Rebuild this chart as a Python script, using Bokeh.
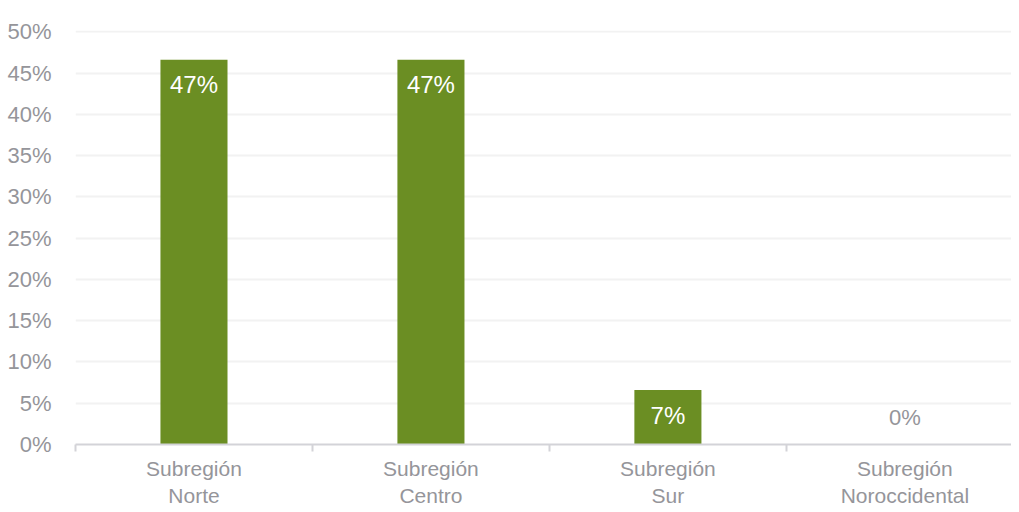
from bokeh.plotting import figure
from bokeh.models import ColumnDataSource, Range1d, FixedTicker, LabelSet, NumeralTickFormatter
from bokeh.core.properties import value
from bokeh.embed import file_html
from bokeh.resources import INLINE

categories = ["Subregión\nNorte", "Subregión\nCentro", "Subregión\nSur", "Subregión\nNoroccidental"]
values = [0.466, 0.466, 0.066, 0.0]
labels = ["47%", "47%", "7%", "0%"]
y_ticks = [0, 0.05, 0.10, 0.15, 0.20, 0.25, 0.30, 0.35, 0.40, 0.45, 0.50]

FONT = "Liberation Sans"
GREEN = "#6b8e23"
GRAY = "#95959a"

xs = list(range(len(categories)))
bounds = [i - 0.5 for i in xs]

p = figure(frame_width=936, frame_height=414, min_border_left=75, min_border_top=30,
           min_border_bottom=60, min_border_right=0,
           x_range=Range1d(-0.5, 3.45), y_range=Range1d(0, 0.5015),
           output_backend="svg", toolbar_location=None)
p.outline_line_color = None
p.background_fill_color = "white"

src = ColumnDataSource(dict(x=xs, top=values, label=labels))
p.vbar(x="x", top="top", width=0.283, source=src, fill_color=GREEN, line_color=None)

# labels inside bars (white) and for zero value (gray, above axis)
in_idx = [i for i, v in enumerate(values) if v > 0]
zero_idx = [i for i, v in enumerate(values) if v <= 0]
src_in = ColumnDataSource(dict(x=[xs[i] for i in in_idx], y=[values[i] for i in in_idx],
                               label=[labels[i] for i in in_idx]))
src_zero = ColumnDataSource(dict(x=[xs[i] for i in zero_idx], y=[values[i] for i in zero_idx],
                                 label=[labels[i] for i in zero_idx]))
p.add_layout(LabelSet(x="x", y="y", text="label", source=src_in, y_offset=-25,
                      text_align="center", text_baseline="middle", text_color="white",
                      text_font=value(FONT), text_font_size="24px"))
p.add_layout(LabelSet(x="x", y="y", text="label", source=src_zero, y_offset=27,
                      text_align="center", text_baseline="middle", text_color=GRAY,
                      text_font=value(FONT), text_font_size="22px"))

# y axis
p.yaxis.ticker = FixedTicker(ticks=y_ticks)
p.yaxis.formatter = NumeralTickFormatter(format="0%")
p.yaxis.axis_line_color = None
p.yaxis.major_tick_line_color = None
p.yaxis.minor_tick_line_color = None
p.yaxis.major_label_text_font = FONT
p.yaxis.major_label_text_font_size = "22px"
p.yaxis.major_label_text_color = GRAY
p.yaxis.major_label_standoff = 18
p.ygrid.grid_line_color = "#f2f2f2"
p.ygrid.grid_line_width = 2

# x axis
p.xgrid.grid_line_color = None
p.xaxis.ticker = FixedTicker(ticks=xs, minor_ticks=bounds)
p.xaxis.major_label_overrides = {i: c for i, c in zip(xs, categories)}
p.xaxis.major_tick_line_color = None
p.xaxis.minor_tick_line_color = "#d3d3d8"
p.xaxis.minor_tick_line_width = 2
p.xaxis.minor_tick_in = 0
p.xaxis.minor_tick_out = 7
p.xaxis.axis_line_color = "#d3d3d8"
p.xaxis.axis_line_width = 2
p.xaxis.major_label_text_font = FONT
p.xaxis.major_label_text_font_size = "21px"
p.xaxis.major_label_text_color = GRAY
p.xaxis.major_label_standoff = 5

open("out.html", "w").write(file_html(p, INLINE))
